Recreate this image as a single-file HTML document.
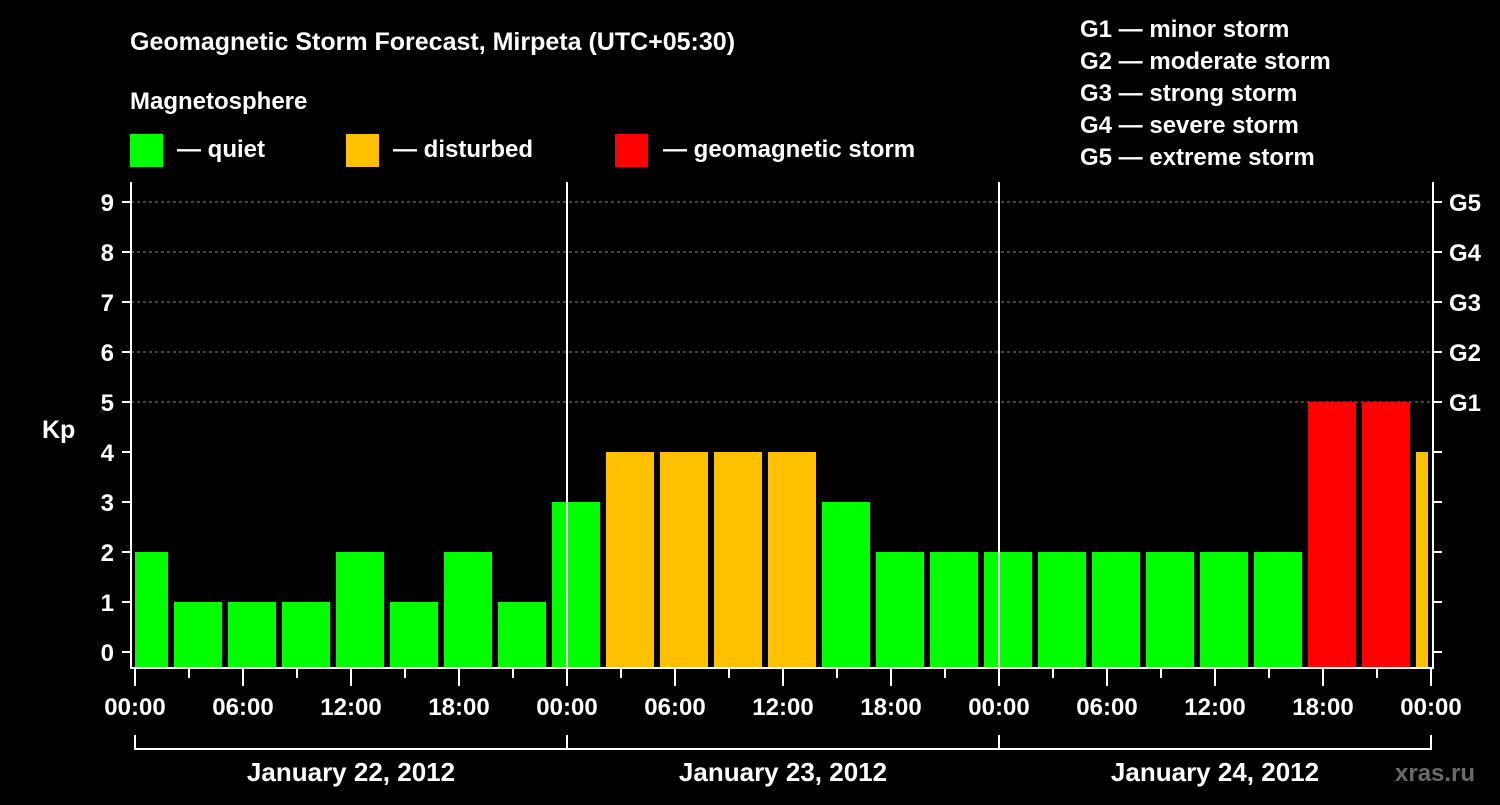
<!DOCTYPE html>
<html><head><meta charset="utf-8"><style>
body{margin:0;background:#000;width:1500px;height:800px;overflow:hidden}
svg text{font-family:"Liberation Sans",sans-serif;font-weight:bold;fill:#fff}
</style></head><body>
<svg id="c" width="1500" height="800">
<text x="130" y="50" font-size="25">Geomagnetic Storm Forecast, Mirpeta (UTC+05:30)</text>
<text x="130" y="109" font-size="24">Magnetosphere</text>
<rect x="130" y="134" width="33" height="33" fill="#00ff00"/>
<text x="177" y="157" font-size="24">— quiet</text>
<rect x="346" y="134" width="33" height="33" fill="#ffc000"/>
<text x="393" y="157" font-size="24">— disturbed</text>
<rect x="615" y="134" width="33" height="33" fill="#ff0000"/>
<text x="663" y="157" font-size="24">— geomagnetic storm</text>
<g font-size="24">
<text x="1080" y="37">G1 — minor storm</text>
<text x="1080" y="69">G2 — moderate storm</text>
<text x="1080" y="101">G3 — strong storm</text>
<text x="1080" y="133">G4 — severe storm</text>
<text x="1080" y="165">G5 — extreme storm</text>
</g>
<text x="42" y="438" font-size="25">Kp</text>
<text x="1395" y="781" font-size="24" fill="#777" style="fill:#6a6a6a">xras.ru</text>
<g id="plot"></g>
</svg>
<script>
const values=[2,1,1,1,2,1,2,1,3,4,4,4,4,3,2,2,2,2,2,2,2,2,5,5,4];
const yTicks=[0,1,2,3,4,5,6,7,8,9];
const gLabels=["G1","G2","G3","G4","G5"];
const xLabels=["00:00","06:00","12:00","18:00","00:00","06:00","12:00","18:00","00:00","06:00","12:00","18:00","00:00"];
const days=["January 22, 2012","January 23, 2012","January 24, 2012"];
const NS="http://www.w3.org/2000/svg",g=document.getElementById('plot');
const x0=135,pxH=18,y=v=>652-50*v,bottom=668,L=131,R=1433;
const hx=h=>x0+h*pxH;
function mk(t,a,p){const e=document.createElementNS(NS,t);for(const k in a)e.setAttribute(k,a[k]);(p||g).appendChild(e);return e;}
// grid
yTicks.forEach(v=>{if(v>=5){const l=mk('line',{x1:L,x2:R,y1:y(v),y2:y(v),stroke:'#888','stroke-dasharray':'3,3'});

}});
// bars
values.forEach((v,i)=>{const c=hx(0.5+3*i);let a=c-24,b=c+24;a=Math.max(a,x0);b=Math.min(b,1428);
const col=v>=5?'#ff0000':v>=4?'#ffc000':'#00ff00';
const r=mk('rect',{x:a,y:y(v),width:b-a,height:bottom-y(v),fill:col});

});
// axes
const ax=mk('path',{d:`M${L} 182V${bottom}H${R}V182`,stroke:'#fff','stroke-width':2,fill:'none'});


for(let d=1;d<3;d++){const l=mk('line',{x1:hx(24*d),x2:hx(24*d),y1:182,y2:bottom,stroke:'#fff','stroke-width':2});

}
yTicks.forEach(v=>{mk('line',{x1:122,x2:L,y1:y(v),y2:y(v),stroke:'#fff','stroke-width':2});
mk('line',{x1:R,x2:1442,y1:y(v),y2:y(v),stroke:'#fff','stroke-width':2});
const t=mk('text',{x:114,y:y(v)+9,'font-size':24,'text-anchor':'end'});t.textContent=v;

});
gLabels.forEach((s,i)=>{const t=mk('text',{x:1449,y:y(5+i)+9,'font-size':24});t.textContent=s;

});
for(let h=0;h<=72;h+=3){mk('line',{x1:hx(h),x2:hx(h),y1:bottom,y2:h%6?678:686,stroke:'#fff','stroke-width':2});}
xLabels.forEach((s,i)=>{const t=mk('text',{x:hx(6*i),y:715,'font-size':24,'text-anchor':'middle'});t.textContent=s;

});
mk('path',{d:`M${hx(0)} 735V749H${hx(72)}V735M${hx(24)} 735V749M${hx(48)} 735V749`,stroke:'#fff','stroke-width':2,fill:'none'});
days.forEach((s,i)=>{const t=mk('text',{x:hx(24*i+12),y:781,'font-size':26,'text-anchor':'middle'});t.textContent=s;

});
</script>
</body></html>
